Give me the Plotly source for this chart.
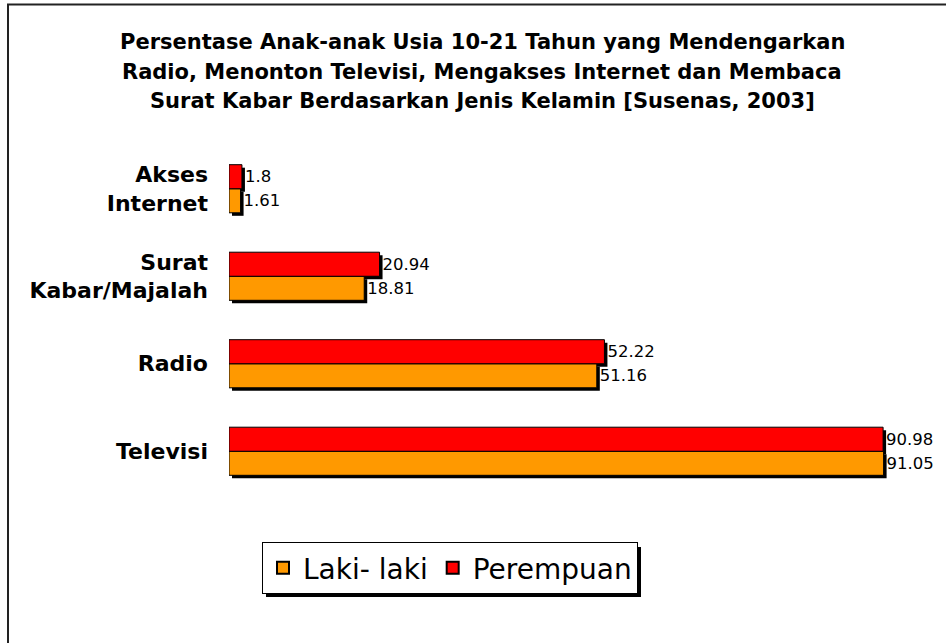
import plotly.graph_objects as go

categories = ["Televisi", "Radio", "Surat<br>Kabar/Majalah", "Akses<br>Internet"]
laki_laki = [91.05, 51.16, 18.81, 1.61]
perempuan = [90.98, 52.22, 20.94, 1.8]
series_names = ["Laki- laki", "Perempuan"]
series_colors = ["#FF9900", "#FF0000"]
title_lines = [
    "Persentase Anak-anak Usia 10-21 Tahun yang Mendengarkan",
    "Radio, Menonton Televisi, Mengakses Internet dan Membaca",
    "Surat Kabar Berdasarkan Jenis Kelamin [Susenas, 2003]",
]

FONT = "DejaVu Sans, Liberation Sans, Arial"
W_FIG, H_FIG = 946, 643
L, R, T, B = 229, 31, 145, 145
PW = W_FIG - L - R
PH = H_FIG - T - B
SH = 3  # shadow offset px


def px_x(p):
    return (p - L) / PW


def px_y(p):
    return ((H_FIG - B) - p) / PH


fig = go.Figure()

series = [laki_laki, perempuan]
# shadows (lower subplot)
for vals in series:
    fig.add_trace(go.Bar(
        y=categories, x=vals, orientation="h",
        marker=dict(color="#000000", line=dict(width=0)),
        showlegend=False, hoverinfo="skip",
        xaxis="x", yaxis="y",
    ))
# main bars (upper subplot)
for name, vals, col in zip(series_names, series, series_colors):
    fig.add_trace(go.Bar(
        y=categories, x=vals, orientation="h", name=name,
        marker=dict(color=col, line=dict(color="#000000", width=1)),
        text=[str(v) for v in vals], textposition="outside",
        textfont=dict(family=FONT, size=16.5, color="#000000"),
        cliponaxis=False,
        xaxis="x2", yaxis="y2",
    ))

title_y = [42, 72, 101]
annotations = [
    dict(text="<b>%s</b>" % line, xref="paper", yref="paper",
         x=px_x(482), y=px_y(yy), xanchor="center", yanchor="middle",
         showarrow=False, font=dict(family=FONT, size=21, color="#000000"))
    for line, yy in zip(title_lines, title_y)
]

xr = [0, 95]
fig.update_layout(
    width=W_FIG, height=H_FIG,
    margin=dict(l=L, r=R, t=T, b=B),
    paper_bgcolor="white", plot_bgcolor="rgba(0,0,0,0)",
    barmode="group", bargap=0.45, bargroupgap=0,
    font=dict(family=FONT, color="#000000"),
    annotations=annotations,
    xaxis=dict(domain=[SH / PW, 1], range=xr, visible=False, anchor="y"),
    yaxis=dict(domain=[0, 1 - SH / PH], visible=False, anchor="x"),
    xaxis2=dict(domain=[0, 1 - SH / PW], range=xr, visible=False, anchor="y2"),
    yaxis2=dict(domain=[SH / PH, 1], anchor="x2", showgrid=False, showline=False,
                zeroline=False, ticks="", ticklabelstandoff=20, automargin=False,
                tickfont=dict(family=FONT, size=22, color="#000000", weight="bold")),
    legend=dict(
        orientation="h", x=px_x(262), y=px_y(542), xanchor="left", yanchor="top",
        font=dict(family=FONT, size=28, color="#000000"),
        bgcolor="white", bordercolor="#000000", borderwidth=1,
        traceorder="normal", itemsizing="constant",
    ),
    shapes=[
        dict(type="rect", xref="paper", yref="paper",
             x0=px_x(8), x1=px_x(980), y0=px_y(4.5), y1=px_y(700),
             line=dict(color="#222222", width=2), fillcolor="rgba(0,0,0,0)", layer="below"),
        dict(type="rect", xref="paper", yref="paper",
             x0=px_x(266), x1=px_x(641), y0=px_y(547), y1=px_y(597),
             line=dict(width=0), fillcolor="#000000", layer="below"),
    ],
)

fig.write_html("out.html", config={"displayModeBar": False},
               post_script="document.body.style.margin='0';document.body.style.overflow='hidden';")
